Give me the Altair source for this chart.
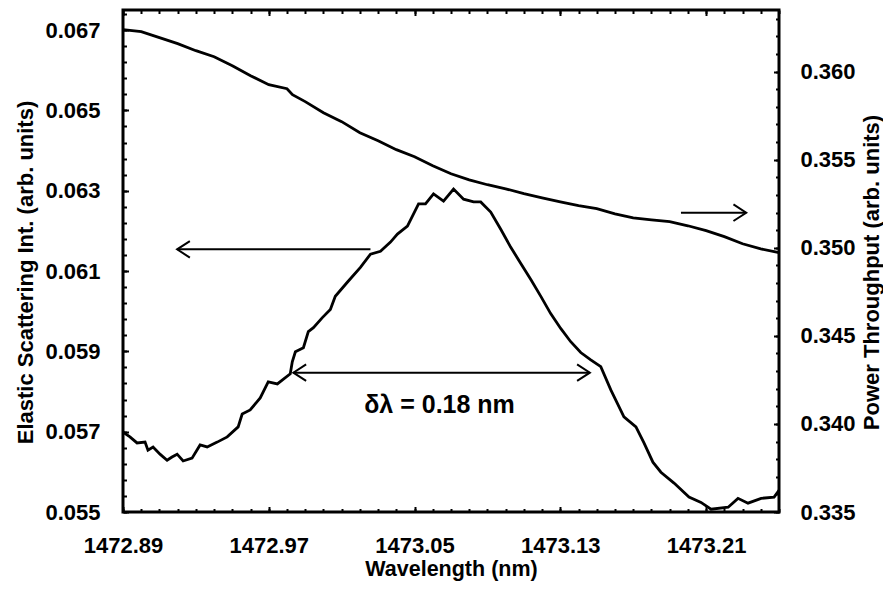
import altair as alt
import pandas as pd

FONT = "Liberation Sans"

# ---- data ----
scatter_wl = [1472.8900, 1472.8938, 1472.8977, 1472.9021, 1472.9037, 1472.9065, 1472.9103, 1472.9142,
              1472.9169, 1472.9197, 1472.9230, 1472.9279, 1472.9323, 1472.9362, 1472.9417, 1472.9472,
              1472.9532, 1472.9554, 1472.9598, 1472.9653, 1472.9697, 1472.9747, 1472.9818, 1472.9829,
              1472.9846, 1472.9890, 1472.9917, 1472.9945, 1472.9994, 1473.0038, 1473.0065, 1473.0131,
              1473.0203, 1473.0258, 1473.0313, 1473.0368, 1473.0406, 1473.0461, 1473.0522, 1473.0560,
              1473.0604, 1473.0659, 1473.0714, 1473.0769, 1473.0824, 1473.0863, 1473.0918, 1473.0973,
              1473.1028, 1473.1083, 1473.1138, 1473.1193, 1473.1247, 1473.1302, 1473.1357, 1473.1412,
              1473.1467, 1473.1522, 1473.1577, 1473.1649, 1473.1715, 1473.1759, 1473.1808, 1473.1852,
              1473.1924, 1473.2006, 1473.2072, 1473.2127, 1473.2221, 1473.2275, 1473.2330, 1473.2402,
              1473.2473, 1473.2500]
scatter_int = [0.05699, 0.05687, 0.05672, 0.05674, 0.05654, 0.05662, 0.05644, 0.05629,
               0.05637, 0.05644, 0.05627, 0.05634, 0.05667, 0.05662, 0.05674, 0.05687,
               0.05712, 0.05744, 0.05754, 0.05784, 0.05824, 0.05819, 0.05844, 0.05874,
               0.05899, 0.05909, 0.05949, 0.05959, 0.05984, 0.06004, 0.06037, 0.06072,
               0.06109, 0.06142, 0.06149, 0.06172, 0.06192, 0.06212, 0.06267, 0.06267,
               0.06292, 0.06274, 0.06304, 0.06279, 0.06272, 0.06272, 0.06247, 0.06204,
               0.06159, 0.06119, 0.06079, 0.06037, 0.05994, 0.05957, 0.05924, 0.05897,
               0.05879, 0.05862, 0.05804, 0.05737, 0.05712, 0.05672, 0.05624, 0.05599,
               0.05572, 0.05537, 0.05524, 0.05507, 0.05512, 0.05534, 0.05522, 0.05534,
               0.05537, 0.05554]

power_wl = [1472.89, 1472.90, 1472.91, 1472.92, 1472.93, 1472.94, 1472.95, 1472.96, 1472.97,
            1472.98, 1472.983, 1472.99, 1473.00, 1473.01, 1473.02, 1473.03, 1473.04, 1473.05,
            1473.06, 1473.07, 1473.08, 1473.09, 1473.10, 1473.11, 1473.12, 1473.13, 1473.14,
            1473.15, 1473.16, 1473.17, 1473.18, 1473.19, 1473.20, 1473.21, 1473.22, 1473.23,
            1473.24, 1473.25]
power_val = [0.36239, 0.36227, 0.36193, 0.36159, 0.36119, 0.36085, 0.36034, 0.35977, 0.35926,
             0.35903, 0.35869, 0.35830, 0.35767, 0.35716, 0.35653, 0.35608, 0.35557, 0.35517,
             0.35466, 0.35420, 0.35386, 0.35358, 0.35335, 0.35307, 0.35284, 0.35261, 0.35239,
             0.35222, 0.35193, 0.35170, 0.35159, 0.35148, 0.35125, 0.35097, 0.35063, 0.35023,
             0.34994, 0.34972]

# axis ranges and tick values
x_domain = [1472.89, 1473.25]
left_domain = [0.055, 0.0675]
right_domain = [0.335, 0.3635]
x_major = [1472.89, 1472.97, 1473.05, 1473.13, 1473.21]
x_minor = [round(1472.89 + 0.01 * i, 2) for i in range(37)]
left_major = [0.055, 0.057, 0.059, 0.061, 0.063, 0.065, 0.067]
left_minor = [round(0.055 + 0.0004 * i, 4) for i in range(32)]
right_major = [0.335, 0.340, 0.345, 0.350, 0.355, 0.360]
right_minor = [round(0.335 + 0.001 * i, 3) for i in range(29)]

# annotations (data coordinates)
left_arrow = {"x1": [1473.0258], "x2": [1472.9197], "y": [0.06154]}
right_arrow = {"x1": [1473.1962], "x2": [1473.2320], "y": [0.35199]}
width_arrow = {"x1": [1472.9835], "x2": [1473.1462], "y": [0.05847]}
width_text = {"x": [1473.0637], "y": [0.05767], "label": ["δλ = 0.18 nm"]}

W, H = 656, 502

scat_df = pd.DataFrame({"wl": scatter_wl, "v": scatter_int})
pow_df = pd.DataFrame({"wl": power_wl, "v": power_val})

xs = alt.Scale(domain=x_domain, nice=False, zero=False)
ls = alt.Scale(domain=left_domain, nice=False, zero=False)
rs = alt.Scale(domain=right_domain, nice=False, zero=False)

lab = dict(labelFont=FONT, labelFontSize=22, labelFontWeight="bold", labelColor="black",
           titleFont=FONT, titleFontWeight="bold", titleColor="black",
           grid=False, domain=False, ticks=False, tickSize=0, labelOverlap=False)


def tick_axis(orient, values, size):
    return alt.Axis(orient=orient, values=values, labels=False, domain=False, grid=False,
                    ticks=True, tickSize=size, offset=-size, tickWidth=2, tickColor="black",
                    title=None)


MAJ, MIN = 5.5, 3.5

x_label_axis = alt.Axis(orient="bottom", values=x_major, format=".2f", labelFlush=False,
                        labelPadding=23, title="Wavelength (nm)", titleY=57, titleFontSize=21.5,
                        titleBaseline="middle", **lab)
left_label_axis = alt.Axis(orient="left", values=left_major, format=".3f", labelPadding=23,
                           title="Elastic Scattering Int. (arb. units)", titleX=-98, titleY=262,
                           titleFontSize=22, titleAngle=270, titleBaseline="middle",
                           titleAlign="center", **lab)
right_label_axis = alt.Axis(orient="right", values=right_major, format=".3f", labelPadding=21,
                            title="Power Throughput (arb. units)", titleX=92, titleY=262,
                            titleFontSize=22, titleAngle=270, titleBaseline="middle",
                            titleAlign="center", **lab)

scatter_line = alt.Chart(scat_df).mark_line(color="black", strokeWidth=2.8).encode(
    x=alt.X("wl:Q", scale=xs, axis=x_label_axis),
    y=alt.Y("v:Q", scale=ls, axis=left_label_axis),
)
power_line = alt.Chart(pow_df).mark_line(color="black", strokeWidth=2.8).encode(
    x=alt.X("wl:Q", scale=xs, axis=tick_axis("top", x_major, MAJ)),
    y=alt.Y("v:Q", scale=rs, axis=right_label_axis),
)

rule_style = dict(color="black", strokeWidth=2)

la = alt.Chart(pd.DataFrame(left_arrow)).mark_rule(**rule_style).encode(
    x=alt.X("x1:Q", scale=xs, axis=tick_axis("bottom", x_major, MAJ)), x2="x2:Q",
    y=alt.Y("y:Q", scale=ls, axis=tick_axis("left", left_major, MAJ)),
)
wa = alt.Chart(pd.DataFrame(width_arrow)).mark_rule(**rule_style).encode(
    x=alt.X("x1:Q", scale=xs, axis=tick_axis("bottom", x_minor, MIN)), x2="x2:Q",
    y=alt.Y("y:Q", scale=ls, axis=tick_axis("left", left_minor, MIN)),
)
ra = alt.Chart(pd.DataFrame(right_arrow)).mark_rule(**rule_style).encode(
    x=alt.X("x1:Q", scale=xs, axis=tick_axis("top", x_minor, MIN)), x2="x2:Q",
    y=alt.Y("y:Q", scale=rs, axis=tick_axis("right", right_major, MAJ)),
)

LEFT_HEAD = "M 1 -0.65 L 0 0 L 1 0.65"
RIGHT_HEAD = "M -1 -0.65 L 0 0 L -1 0.65"
head_style = dict(filled=False, color="black", strokeWidth=2, size=650, opacity=1)

ra_head = alt.Chart(pd.DataFrame(right_arrow)).mark_point(shape=RIGHT_HEAD, **head_style).encode(
    x=alt.X("x2:Q", scale=xs, axis=None),
    y=alt.Y("y:Q", scale=rs, axis=tick_axis("right", right_minor, MIN)),
)
la_head = alt.Chart(pd.DataFrame(left_arrow)).mark_point(shape=LEFT_HEAD, **head_style).encode(
    x=alt.X("x2:Q", scale=xs, axis=None),
    y=alt.Y("y:Q", scale=ls, axis=None),
)
wa_head_l = alt.Chart(pd.DataFrame(width_arrow)).mark_point(shape=LEFT_HEAD, **head_style).encode(
    x=alt.X("x1:Q", scale=xs, axis=None),
    y=alt.Y("y:Q", scale=ls, axis=None),
)
wa_head_r = alt.Chart(pd.DataFrame(width_arrow)).mark_point(shape=RIGHT_HEAD, **head_style).encode(
    x=alt.X("x2:Q", scale=xs, axis=None),
    y=alt.Y("y:Q", scale=ls, axis=None),
)
txt = alt.Chart(pd.DataFrame(width_text)).mark_text(
    font=FONT, fontSize=25, fontWeight="bold", color="black", baseline="middle", align="center"
).encode(
    x=alt.X("x:Q", scale=xs, axis=None),
    y=alt.Y("y:Q", scale=ls, axis=None),
    text="label:N",
)

chart = alt.layer(
    scatter_line, power_line, la, wa, ra, ra_head, la_head, wa_head_l, wa_head_r, txt
).resolve_scale(y="independent").resolve_axis(x="independent", y="independent").properties(
    width=W, height=H,
    autosize=alt.AutoSizeParams(type="none"),
    padding={"left": 115, "top": 2, "right": 104, "bottom": 70},
).configure(font=FONT).configure_view(stroke="black", strokeWidth=3)

chart.save("out.html", embed_options={"renderer": "svg", "actions": False})
